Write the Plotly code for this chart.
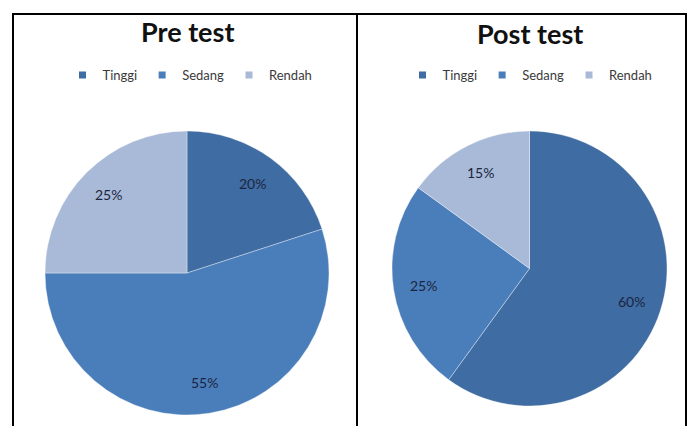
import math
import plotly.graph_objects as go

categories = ["Tinggi", "Sedang", "Rendah"]
pre_values = [20, 55, 25]
post_values = [60, 25, 15]
titles = ["Pre test", "Post test"]
colors = ["#3F6CA2", "#4A7EBB", "#A8BAD8"]

OFF = 8  # page body margin
W, H = 695 - 2 * OFF, 426 - OFF

def px_x(v):
    return (v - OFF) / W

def px_y(v):
    return 1 - (v - OFF) / H

FONT = "Lato, sans-serif"

# pie geometry in page pixels: (left, right, top, bottom)
pies = [
    dict(values=pre_values, box=(45, 329, 131, 415), leg="legend", legx=190, title_x=187, title_y=31),
    dict(values=post_values, box=(391, 668, 131, 406), leg="legend2", legx=530, title_x=530, title_y=33),
]

fig = go.Figure()
annotations = []

for i, p in enumerate(pies):
    l, r, t, b = p["box"]
    fig.add_trace(go.Pie(
        labels=categories, values=p["values"], sort=False, direction="clockwise", rotation=0,
        marker=dict(colors=colors, line=dict(color="rgba(255,255,255,0.6)", width=0.6)),
        textinfo="none", showlegend=False,
        domain=dict(x=[px_x(l), px_x(r)], y=[px_y(b), px_y(t)]),
        hoverinfo="label+percent",
    ))
    # percentage labels placed along each slice bisector
    cx, cy = (l + r) / 2, (t + b) / 2
    rad = min(r - l, b - t) / 2
    total = sum(p["values"])
    cum = 0
    for v in p["values"]:
        mid = (cum + v / 2) / total * 2 * math.pi
        cum += v
        frac = 0.78
        x = cx + frac * rad * math.sin(mid)
        y = cy - frac * rad * math.cos(mid)
        annotations.append(dict(
            text="%d%%" % round(100 * v / total), x=px_x(x), y=px_y(y), xref="paper", yref="paper",
            showarrow=False, xanchor="center", yanchor="middle",
            font=dict(family=FONT, size=14, color="#1c2540")))
    # legend entries
    for name, c in zip(categories, colors):
        fig.add_trace(go.Scatter(
            x=[None], y=[None], mode="markers", name=name,
            marker=dict(symbol="square", size=7, color=c),
            legend=p["leg"], showlegend=True, hoverinfo="skip"))
    annotations.append(dict(
        text="<b>%s</b>" % titles[i], x=px_x(p["title_x"]), y=px_y(p["title_y"]),
        xref="paper", yref="paper", showarrow=False, xanchor="center", yanchor="middle",
        font=dict(family=FONT, size=27, color="#111111")))

legend_common = dict(orientation="h", xanchor="center", yanchor="middle",
                     font=dict(family=FONT, size=13, color="#3a3a3a"),
                     bgcolor="rgba(0,0,0,0)", itemwidth=30, tracegroupgap=0)

line = dict(color="black", width=2)
right_x = min(692, OFF + W - 1)
fig.update_layout(
    width=W, height=H,
    margin=dict(l=0, r=0, t=0, b=0),
    paper_bgcolor="white", plot_bgcolor="white",
    xaxis=dict(visible=False), yaxis=dict(visible=False),
    legend=dict(x=px_x(pies[0]["legx"]), y=px_y(75), **legend_common),
    legend2=dict(x=px_x(pies[1]["legx"]), y=px_y(75), **legend_common),
    annotations=annotations,
    shapes=[
        dict(type="line", xref="paper", yref="paper", x0=px_x(12), x1=px_x(right_x + 1), y0=px_y(14), y1=px_y(14), line=line),
        dict(type="line", xref="paper", yref="paper", x0=px_x(13), x1=px_x(13), y0=px_y(14), y1=0, line=line),
        dict(type="line", xref="paper", yref="paper", x0=px_x(357), x1=px_x(357), y0=px_y(14), y1=0, line=line),
        dict(type="line", xref="paper", yref="paper", x0=px_x(right_x), x1=px_x(right_x), y0=px_y(14), y1=0, line=line),
    ],
)

fig.write_html("out.html")
